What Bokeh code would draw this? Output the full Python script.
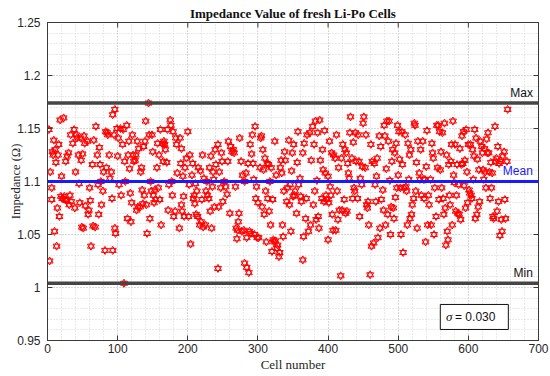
import math
from bokeh.plotting import figure
from bokeh.models import (ColumnDataSource, Span, Label, BoxAnnotation,
                          SingleIntervalTicker, CustomJSTickFormatter, Range1d)
from bokeh.embed import file_html
from bokeh.resources import INLINE

# ---------------- data (cell number, impedance in ohm) ----------------
seg_000 = [(2, 1.149), (3, 1.025), (4, 1.109), (6, 1.083), (6, 1.094), (7, 1.128), (8, 1.125), (9, 1.139),
           (10, 1.053), (11, 1.130), (12, 1.118), (13, 1.039), (14, 1.075), (15, 1.125), (16, 1.135),
           (17, 1.067), (18, 1.158), (19, 1.086), (20, 1.105), (21, 1.084), (23, 1.160), (24, 1.086),
           (25, 1.083), (26, 1.119), (27, 1.082), (28, 1.124), (30, 1.127), (31, 1.078), (32, 1.087),
           (33, 1.144), (34, 1.081), (36, 1.136), (38, 1.149), (39, 1.075), (40, 1.109), (41, 1.144),
           (42, 1.141), (44, 1.125), (45, 1.098), (46, 1.080), (47, 1.141), (48, 1.120), (49, 1.057),
           (50, 1.126), (51, 1.056), (52, 1.143), (53, 1.136), (54, 1.077), (57, 1.138), (58, 1.069),
           (59, 1.073), (60, 1.094), (61, 1.082), (62, 1.039), (64, 1.116), (65, 1.058), (66, 1.139),
           (68, 1.057), (69, 1.152), (71, 1.125), (72, 1.097), (73, 1.069), (74, 1.132), (75, 1.116),
           (76, 1.100), (77, 1.078), (79, 1.091), (80, 1.109), (82, 1.035), (83, 1.147), (84, 1.113),
           (85, 1.146), (86, 1.144), (88, 1.125), (89, 1.103)]
seg_090 = [(91, 1.109), (92, 1.084), (93, 1.163), (93, 1.035), (95, 1.144), (96, 1.168), (96, 1.056), (97, 1.051),
           (99, 1.150), (100, 1.124), (101, 1.141), (102, 1.097), (104, 1.150), (105, 1.087), (107, 1.135),
           (108, 1.149), (109, 1.004), (110, 1.119), (111, 1.100), (113, 1.153), (114, 1.065), (115, 1.125),
           (116, 1.138), (117, 1.112), (118, 1.089), (119, 1.062), (120, 1.080), (121, 1.144), (122, 1.125),
           (123, 1.119), (125, 1.120), (126, 1.125), (127, 1.073), (128, 1.138), (129, 1.076), (130, 1.131),
           (132, 1.076), (133, 1.109), (134, 1.113), (135, 1.092), (136, 1.079), (137, 1.133), (138, 1.087),
           (139, 1.138), (140, 1.157), (141, 1.078), (142, 1.051), (144, 1.174), (145, 1.144), (146, 1.065),
           (147, 1.100), (148, 1.091), (149, 1.144), (150, 1.128), (151, 1.087), (152, 1.080), (153, 1.092),
           (154, 1.083), (156, 1.113), (157, 1.136), (158, 1.094), (159, 1.125), (160, 1.083), (161, 1.149),
           (162, 1.059), (164, 1.136), (165, 1.119), (166, 1.138), (167, 1.135), (168, 1.130), (170, 1.118),
           (171, 1.149), (172, 1.073), (173, 1.097), (175, 1.158), (176, 1.153), (177, 1.100), (178, 1.087),
           (179, 1.147), (180, 1.067), (182, 1.072), (183, 1.141), (184, 1.135), (185, 1.108)]
seg_186 = [(188, 1.056), (189, 1.141), (190, 1.117), (191, 1.131), (191, 1.078), (192, 1.072), (193, 1.105),
           (194, 1.086), (195, 1.067), (196, 1.113), (198, 1.122), (200, 1.147), (201, 1.067), (202, 1.097),
           (203, 1.125), (204, 1.041), (206, 1.106), (207, 1.117), (208, 1.084), (209, 1.087), (210, 1.079),
           (211, 1.098), (212, 1.069), (213, 1.091), (214, 1.067), (215, 1.113), (217, 1.059), (218, 1.110),
           (219, 1.062), (220, 1.083), (221, 1.125), (222, 1.057), (223, 1.103), (225, 1.059), (226, 1.091),
           (227, 1.100), (228, 1.087), (230, 1.084), (231, 1.113), (232, 1.072), (233, 1.124), (234, 1.056),
           (235, 1.095), (236, 1.109), (237, 1.102), (238, 1.076), (239, 1.130), (240, 1.116), (243, 1.018),
           (243, 1.135), (244, 1.076), (245, 1.109), (247, 1.094), (248, 1.127), (249, 1.119), (250, 1.081),
           (252, 1.100), (254, 1.095), (256, 1.088), (257, 1.119), (258, 1.138), (260, 1.070), (261, 1.133),
           (263, 1.128), (265, 1.130), (266, 1.127), (268, 1.095), (269, 1.056), (270, 1.046), (271, 1.054),
           (272, 1.062), (273, 1.070), (274, 1.141), (276, 1.119), (277, 1.053), (278, 1.106)]
seg_279 = [(280, 1.054), (281, 1.023), (281, 1.100), (283, 1.108), (284, 1.019), (284, 1.047), (286, 1.117),
           (287, 1.014), (288, 1.053), (289, 1.135), (290, 1.051), (291, 1.126), (292, 1.144), (293, 1.117),
           (294, 1.102), (295, 1.050), (296, 1.152), (297, 1.084), (298, 1.095), (299, 1.047), (300, 1.080),
           (301, 1.047), (303, 1.113), (304, 1.141), (305, 1.143), (306, 1.076), (307, 1.130), (308, 1.111),
           (309, 1.069), (310, 1.122), (311, 1.091), (312, 1.043), (313, 1.117), (314, 1.084), (315, 1.116),
           (316, 1.072), (317, 1.100), (318, 1.059), (319, 1.113), (320, 1.034), (321, 1.083), (322, 1.045),
           (323, 1.043), (324, 1.138), (325, 1.044), (326, 1.106), (327, 1.037), (328, 1.040), (330, 1.029),
           (331, 1.033), (332, 1.113), (333, 1.120), (334, 1.108), (335, 1.059), (336, 1.048), (337, 1.091),
           (338, 1.128), (339, 1.120), (341, 1.081), (342, 1.094), (344, 1.139), (345, 1.078), (346, 1.097),
           (347, 1.053), (348, 1.110), (349, 1.127), (350, 1.086), (351, 1.135), (352, 1.087), (353, 1.091),
           (355, 1.070), (356, 1.118), (357, 1.147), (358, 1.097), (360, 1.103), (361, 1.086), (362, 1.081),
           (364, 1.026), (364, 1.127), (365, 1.048), (366, 1.136), (368, 1.065), (369, 1.084), (370, 1.144)]
seg_372 = [(372, 1.053), (374, 1.146), (375, 1.059), (376, 1.120), (378, 1.152), (379, 1.078), (380, 1.135),
           (381, 1.091), (382, 1.157), (383, 1.064), (384, 1.101), (385, 1.146), (386, 1.067), (387, 1.056),
           (388, 1.158), (389, 1.120), (391, 1.084), (392, 1.130), (393, 1.111), (394, 1.081), (395, 1.148),
           (396, 1.108), (397, 1.087), (398, 1.083), (400, 1.045), (400, 1.105), (401, 1.080), (402, 1.138),
           (403, 1.095), (404, 1.087), (405, 1.127), (406, 1.069), (407, 1.054), (408, 1.125), (410, 1.122),
           (411, 1.054), (412, 1.144), (413, 1.091), (414, 1.064), (415, 1.113), (416, 1.073), (418, 1.011),
           (419, 1.122), (420, 1.073), (421, 1.135), (423, 1.083), (424, 1.130), (425, 1.070), (426, 1.127),
           (427, 1.072), (428, 1.117), (429, 1.108), (430, 1.103), (431, 1.146), (432, 1.161), (434, 1.122),
           (435, 1.084), (436, 1.137), (437, 1.094), (438, 1.091), (439, 1.146), (440, 1.119), (442, 1.084),
           (443, 1.144), (444, 1.119), (445, 1.067), (446, 1.103), (448, 1.097), (449, 1.114), (450, 1.155),
           (451, 1.161), (453, 1.113), (454, 1.144), (455, 1.078), (456, 1.075), (457, 1.081), (458, 1.059),
           (460, 1.012), (461, 1.135), (462, 1.039), (463, 1.119)]
seg_465 = [(465, 1.042), (466, 1.117), (467, 1.097), (468, 1.081), (469, 1.105), (470, 1.122), (471, 1.047),
           (473, 1.143), (474, 1.056), (475, 1.133), (476, 1.083), (478, 1.092), (479, 1.073), (480, 1.153),
           (481, 1.143), (482, 1.059), (483, 1.112), (484, 1.157), (485, 1.069), (486, 1.138), (487, 1.157),
           (488, 1.101), (489, 1.050), (490, 1.076), (491, 1.119), (492, 1.130), (493, 1.075), (494, 1.065),
           (495, 1.127), (496, 1.085), (497, 1.136), (498, 1.094), (499, 1.153), (500, 1.106), (501, 1.147),
           (502, 1.121), (503, 1.094), (504, 1.050), (505, 1.147), (506, 1.116), (507, 1.033), (508, 1.094),
           (510, 1.144), (511, 1.095), (512, 1.091), (513, 1.059), (514, 1.136), (515, 1.102), (516, 1.125),
           (517, 1.065), (518, 1.130), (519, 1.069), (520, 1.078), (522, 1.084), (523, 1.155), (524, 1.153),
           (525, 1.091), (526, 1.118), (527, 1.056), (528, 1.138), (530, 1.108), (531, 1.102), (532, 1.130),
           (533, 1.087), (535, 1.138), (536, 1.102), (537, 1.084), (538, 1.102), (539, 1.043), (540, 1.114),
           (541, 1.148), (542, 1.059), (543, 1.087), (544, 1.078), (546, 1.102), (547, 1.059), (548, 1.136),
           (549, 1.127), (550, 1.122), (551, 1.050), (552, 1.094), (554, 1.067), (555, 1.153), (556, 1.113)]
seg_557 = [(557, 1.153), (558, 1.083), (559, 1.147), (560, 1.111), (561, 1.128), (562, 1.094), (563, 1.146),
           (564, 1.084), (565, 1.069), (566, 1.155), (567, 1.075), (568, 1.040), (569, 1.125), (570, 1.053),
           (571, 1.045), (572, 1.116), (573, 1.087), (574, 1.078), (575, 1.119), (576, 1.135), (577, 1.059),
           (578, 1.157), (579, 1.106), (580, 1.099), (581, 1.135), (582, 1.072), (583, 1.087), (584, 1.116),
           (585, 1.070), (586, 1.097), (587, 1.069), (588, 1.131), (589, 1.064), (590, 1.116), (591, 1.143),
           (592, 1.117), (593, 1.147), (594, 1.096), (595, 1.120), (596, 1.075), (597, 1.149), (598, 1.109),
           (599, 1.080), (600, 1.135), (601, 1.092), (602, 1.089), (603, 1.135), (604, 1.087), (605, 1.084),
           (606, 1.130), (607, 1.102), (608, 1.124), (609, 1.149), (610, 1.065), (611, 1.141), (612, 1.069),
           (613, 1.121), (614, 1.076), (615, 1.111), (616, 1.081), (617, 1.138), (619, 1.133), (620, 1.127),
           (621, 1.111), (622, 1.102), (623, 1.131), (624, 1.109), (625, 1.094), (626, 1.140), (627, 1.127),
           (628, 1.146), (629, 1.127), (630, 1.109), (631, 1.084), (632, 1.118), (633, 1.094), (634, 1.108),
           (635, 1.067), (636, 1.065), (638, 1.152), (639, 1.119), (640, 1.122), (641, 1.072), (642, 1.133),
           (643, 1.081), (644, 1.117)]
seg_645 = [(645, 1.049), (646, 1.119), (647, 1.064), (648, 1.053), (649, 1.124), (651, 1.128), (652, 1.083),
           (653, 1.065), (655, 1.119), (656, 1.168)]

impedance_max = 1.174
impedance_mean = 1.100
impedance_min = 1.004
sigma_text = "= 0.030"
title_text = "Impedance Value of fresh Li-Po Cells"
x_label = "Cell number"
y_label = "Impedance (\u03a9)"

x_ticks_interval = 100
y_ticks_interval = 0.05
x_tick_values = [0, 100, 200, 300, 400, 500, 600, 700]
y_tick_values = [0.95, 1.0, 1.05, 1.1, 1.15, 1.2, 1.25]

# ---------------------------------------------------------------------------------------------
pairs = seg_000 + seg_090 + seg_186 + seg_279 + seg_372 + seg_465 + seg_557 + seg_645
cell_number = [c for c, _ in pairs]
impedance = [v for _, v in pairs]
src = ColumnDataSource(dict(x=cell_number, y=impedance))

X0, X1 = 0, 700
Y0, Y1 = 0.95, 1.25

AX = "#3a3a3a"
TXT = "#262626"
p = figure(width=550, height=376, x_range=Range1d(X0, X1), y_range=Range1d(Y0, Y1),
           output_backend="svg", toolbar_location=None, title=title_text,
           min_border_left=47, min_border_right=12, min_border_top=22, min_border_bottom=36)

p.title.text_font = "Liberation Serif"
p.title.text_font_style = "bold"
p.title.text_font_size = "13px"
p.title.align = "center"
p.title.text_color = "#111111"
p.title.standoff = 4

p.background_fill_color = "white"
p.border_fill_color = "white"
p.outline_line_color = AX
p.outline_line_width = 1

xt = SingleIntervalTicker(interval=x_ticks_interval, num_minor_ticks=5)
yt = SingleIntervalTicker(interval=y_ticks_interval, num_minor_ticks=5)
p.xaxis.ticker = xt
p.yaxis.ticker = yt
p.xgrid.ticker = xt
p.ygrid.ticker = yt
p.yaxis.formatter = CustomJSTickFormatter(code="return (Math.round(tick*100)/100).toString();")

for g in (p.xgrid, p.ygrid):
    g.grid_line_color = "#c4c4c4"
    g.grid_line_dash = "1 2"
    g.grid_line_width = 1
    g.minor_grid_line_color = "#d4d4d4"
    g.minor_grid_line_dash = "1 2"
    g.minor_grid_line_width = 1

for ax in (p.xaxis, p.yaxis):
    ax.axis_line_color = AX
    ax.major_tick_line_color = AX
    ax.major_tick_in = 5
    ax.major_tick_out = 0
    ax.minor_tick_in = 0
    ax.minor_tick_out = 0
    ax.major_label_text_font = "Liberation Sans"
    ax.major_label_text_font_size = "12px"
    ax.major_label_text_color = TXT
    ax.axis_label_text_font = "Liberation Serif"
    ax.axis_label_text_font_style = "normal"
    ax.axis_label_text_color = TXT

p.xaxis.axis_label = x_label
p.xaxis.axis_label_text_font_size = "13px"
p.xaxis.major_label_standoff = 3
p.xaxis.axis_label_standoff = 1
p.yaxis.axis_label = y_label
p.yaxis.axis_label_text_font_size = "12.5px"
p.yaxis.major_label_standoff = 7
p.yaxis.axis_label_standoff = -9

# inward tick marks on the top and right edges of the box (half of each dash is clipped)
p.scatter(x=x_tick_values, y=[Y1] * len(x_tick_values), marker="dash", angle=math.pi / 2,
          size=10, line_color=AX, line_width=1)
p.scatter(x=[X1] * len(y_tick_values), y=y_tick_values, marker="dash",
          size=10, line_color=AX, line_width=1)

# reference lines
p.add_layout(Span(location=impedance_max, dimension="width", line_color="#454545", line_width=3.5))
p.add_layout(Span(location=impedance_min, dimension="width", line_color="#454545", line_width=3.5))
p.add_layout(Span(location=impedance_mean, dimension="width", line_color="#1a1aff", line_width=3))

# data markers (hexagram = two triangles)
p.scatter("x", "y", source=src, marker="triangle", size=7, fill_color=None,
          line_color="#ff0000", line_width=1)
p.scatter("x", "y", source=src, marker="inverted_triangle", size=7, fill_color=None,
          line_color="#ff0000", line_width=1)

lab = dict(text_font="Liberation Sans", text_font_size="12px", text_align="right",
           text_baseline="bottom")
p.add_layout(Label(x=692, y=impedance_max + 0.003, text="Max", text_color="#111111", **lab))
p.add_layout(Label(x=692, y=impedance_mean + 0.003, text="Mean", text_color="#1a1aff", **lab))
p.add_layout(Label(x=692, y=impedance_min + 0.003, text="Min", text_color="#111111", **lab))

# sigma box
p.add_layout(BoxAnnotation(left=560, right=657, bottom=0.9604, top=0.984,
                           fill_color="white", fill_alpha=1, line_color="#111111",
                           line_width=1, line_alpha=1))
p.add_layout(Label(x=568, y=0.9722, text="\u03c3", text_font="Liberation Serif",
                   text_font_style="italic", text_font_size="13px", text_baseline="middle",
                   text_color="#111111"))
p.add_layout(Label(x=581, y=0.9722, text=sigma_text, text_font="Liberation Sans",
                   text_font_size="12px", text_baseline="middle", text_color="#111111"))

open("out.html", "w").write(file_html(p, INLINE))
